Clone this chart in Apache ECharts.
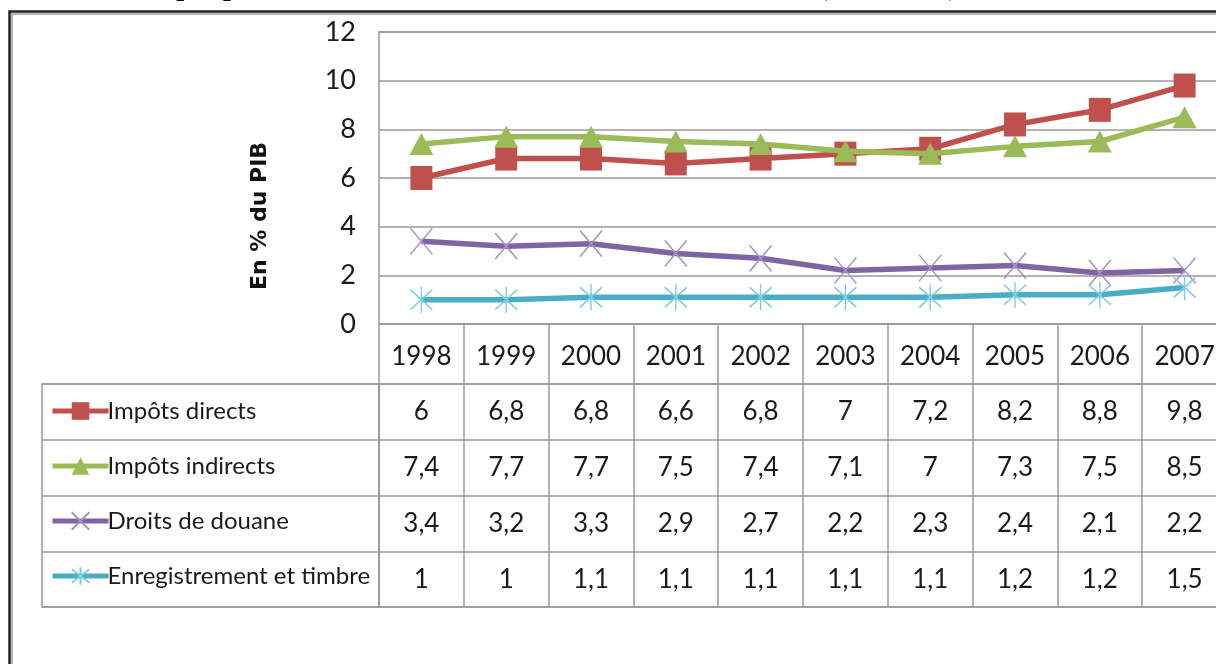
<!DOCTYPE html>
<html>
<head>
<meta charset="utf-8">
<script src="https://cdn.jsdelivr.net/npm/echarts@6/dist/echarts.min.js"></script>
<style>
  html, body { margin: 0; padding: 0; background: #fff; overflow: hidden; }
  #chart { width: 1240px; height: 664px; }
</style>
</head>
<body>
<div id="chart"></div>
<script>
// recettes fiscales en % du PIB
var years = ['1998', '1999', '2000', '2001', '2002', '2003', '2004', '2005', '2006', '2007'];
var seriesNames = ['Impôts directs', 'Impôts indirects', 'Droits de douane', 'Enregistrement et timbre'];
var impotsDirects = [6, 6.8, 6.8, 6.6, 6.8, 7, 7.2, 8.2, 8.8, 9.8];
var impotsIndirects = [7.4, 7.7, 7.7, 7.5, 7.4, 7.1, 7, 7.3, 7.5, 8.5];
var droitsDouane = [3.4, 3.2, 3.3, 2.9, 2.7, 2.2, 2.3, 2.4, 2.1, 2.2];
var enregistrement = [1, 1, 1.1, 1.1, 1.1, 1.1, 1.1, 1.2, 1.2, 1.5];
var allValues = [impotsDirects, impotsIndirects, droitsDouane, enregistrement];

var txtFont = 'Lato, "DejaVu Sans Condensed", sans-serif';
var gridGrey = '#9a9a9a';

var xPath = 'path://M0,0L10,10M10,0L0,10';
var starPath = 'path://M0,0L10,10M10,0L0,10M5,-1.5L5,11.5';

// cellules du tableau de donnees
var tableData = [];
allValues.forEach(function (vals, r) {
    vals.forEach(function (v, i) {
        tableData.push([years[i], seriesNames[r], v]);
    });
});

var myChart = echarts.init(document.getElementById('chart'));

var option = {
    animation: false,
    graphic: [
        {
            type: 'rect',
            shape: { x: 9.5, y: 11.5, width: 1400, height: 1000 },
            style: { fill: 'none', stroke: '#222', lineWidth: 2.5 },
            z: 0
        },
        {
            type: 'rect',
            shape: { x: 12, y: 14, width: 1400, height: 1000 },
            style: { fill: 'none', stroke: '#b5b5b5', lineWidth: 2 },
            z: 0
        },
        {
            type: 'text',
            x: 128,
            y: 2,
            style: {
                text: 'Graphique 3: Evolution des recettes fiscales en % du PIB (1998-2007)',
                font: 'bold 28px "Liberation Serif", serif',
                fill: '#000',
                verticalAlign: 'bottom'
            }
        }
    ],
    legend: {
        data: seriesNames,
        orient: 'vertical',
        left: 50,
        top: 399,
        itemWidth: 56,
        itemHeight: 22,
        itemGap: 31,
        padding: 0,
        selectedMode: false,
        lineStyle: { width: 5 },
        textStyle: { fontFamily: txtFont, fontSize: 24, lineHeight: 22, color: '#1a1a1a', padding: [0, 0, 0, -6] }
    },
    grid: [
        { left: 379, top: 32, width: 848, height: 292, show: true, borderColor: gridGrey, borderWidth: 1.5 },
        { left: 379, top: 384, width: 848, height: 223, show: true, borderColor: gridGrey, borderWidth: 1.5 },
        { left: 42, top: 384, width: 337, height: 223, show: true, borderColor: gridGrey, borderWidth: 1.5 }
    ],
    xAxis: [
        {
            type: 'category',
            data: years,
            gridIndex: 0,
            axisLine: { lineStyle: { color: gridGrey, width: 1.5 } },
            axisTick: { show: true, length: 60, lineStyle: { color: gridGrey, width: 1.5 } },
            axisLabel: { fontFamily: txtFont, fontSize: 26, color: '#1a1a1a', margin: 20 }
        },
        {
            type: 'category',
            data: years,
            gridIndex: 1,
            axisLine: { show: false },
            axisTick: { show: false },
            axisLabel: { show: false },
            splitLine: { show: true, lineStyle: { color: gridGrey, width: 1.5 } }
        },
        {
            type: 'value',
            gridIndex: 2,
            min: 0,
            max: 1,
            show: false
        }
    ],
    yAxis: [
        {
            type: 'value',
            gridIndex: 0,
            min: 0,
            max: 12,
            interval: 2,
            name: 'En % du PIB',
            nameLocation: 'middle',
            nameRotate: 90,
            nameGap: 108,
            nameTextStyle: {
                fontFamily: '"DejaVu Sans", sans-serif', fontWeight: 'bold', fontSize: 22, color: '#111',
                padding: [0, 76, 0, 0]
            },
            axisLine: { show: false },
            axisTick: { show: false },
            axisLabel: { fontFamily: txtFont, fontSize: 27, color: '#1a1a1a', margin: 23 },
            splitLine: { lineStyle: { color: gridGrey, width: 1.5 } }
        },
        {
            type: 'category',
            data: seriesNames,
            inverse: true,
            gridIndex: 1,
            axisLine: { show: false },
            axisTick: { show: false },
            axisLabel: { show: false },
            splitLine: { show: true, lineStyle: { color: gridGrey, width: 1.5 } }
        },
        {
            type: 'category',
            data: seriesNames,
            inverse: true,
            gridIndex: 2,
            axisLine: { show: false },
            axisTick: { show: false },
            axisLabel: { show: false },
            splitLine: { show: true, lineStyle: { color: gridGrey, width: 1.5 } }
        }
    ],
    series: [
        {
            name: seriesNames[0],
            type: 'line',
            data: impotsDirects,
            symbol: 'rect',
            symbolSize: [22, 24],
            lineStyle: { color: '#c0504d', width: 5.5 },
            itemStyle: { color: '#c0504d' },
            z: 4
        },
        {
            name: seriesNames[1],
            type: 'line',
            data: impotsIndirects,
            symbol: 'triangle',
            symbolSize: [24, 22],
            lineStyle: { color: '#9bbb59', width: 5.5 },
            itemStyle: { color: '#9bbb59' },
            z: 5
        },
        {
            name: seriesNames[2],
            type: 'line',
            data: droitsDouane,
            symbol: xPath,
            symbolSize: [22, 26],
            lineStyle: { color: '#8064a2', width: 5.5 },
            itemStyle: { color: 'rgba(0,0,0,0)', borderColor: '#a593c8', borderWidth: 1.5 },
            z: 3
        },
        {
            name: seriesNames[3],
            type: 'line',
            data: enregistrement,
            symbol: starPath,
            symbolSize: [22, 26],
            lineStyle: { color: '#4bacc6', width: 5.5 },
            itemStyle: { color: 'rgba(0,0,0,0)', borderColor: '#7dcde3', borderWidth: 1.5 },
            z: 3
        },
        {
            name: 'tableau',
            type: 'scatter',
            xAxisIndex: 1,
            yAxisIndex: 1,
            data: tableData,
            symbolSize: 1,
            itemStyle: { color: 'rgba(0,0,0,0)' },
            label: {
                show: true,
                position: 'inside',
                fontFamily: txtFont,
                fontSize: 26,
                color: '#1a1a1a',
                opacity: 1,
                textBorderWidth: 0,
                formatter: function (p) {
                    return String(p.value[2]).replace('.', ',');
                }
            }
        }
    ]
};

myChart.setOption(option);
</script>
</body>
</html>
